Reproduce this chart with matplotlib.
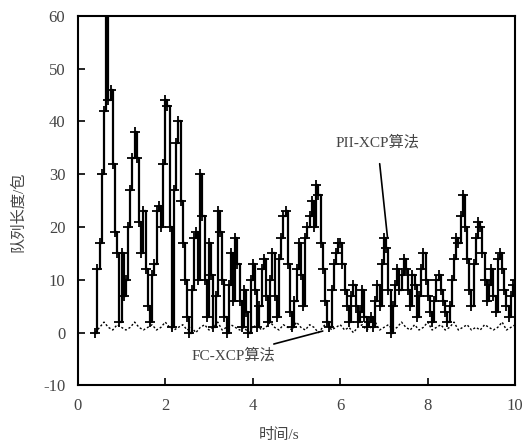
import numpy as np
import matplotlib
matplotlib.use("Agg")
import matplotlib.pyplot as plt

plt.rcParams['font.family'] = ['Liberation Serif', 'Noto Sans CJK SC']
plt.rcParams['axes.unicode_minus'] = False

# PII-XCP queue length, sampled every 0.05 s starting at 0.40 s
pii_t0 = 0.40
pii_dt = 0.05
pii_values = [
    0, 12, 17, 30, 42, 60, 44, 46, 32, 19, 15, 2,
    15, 7, 10, 20, 27, 33, 38, 33, 21, 15, 23, 12, 5, 2, 11, 13, 23, 24, 20, 32,
    44, 43, 20, 1, 27, 36, 40, 25, 17, 10, 3, 0, 8, 18, 19, 10, 30, 22, 10, 3,
    17, 11, 1, 7, 23, 19, 10, 3, 0, 9, 15, 6, 18, 13, 6, 1, 8, 4, 0, 10,
    13, 8, 1, 5, 12, 14, 7, 2, 10, 15, 7, 3, 14, 18, 22, 23, 13, 4, 1, 6,
    12, 17, 11, 5, 18, 20, 22, 25, 20, 28, 26, 17, 12, 6, 2, 1, 8, 13, 15, 17,
    17, 13, 8, 5, 2, 7, 9, 5, 2, 4, 8, 3, 1, 2, 3, 1, 6, 9, 5, 13,
    18, 16, 8, 0, 5, 9, 12, 8, 11, 14, 12, 8, 5, 11, 9, 3, 7, 12, 15, 10,
    7, 4, 2, 6, 10, 11, 8, 6, 4, 2, 5, 10, 14, 18, 17, 22, 26, 20, 14, 8,
    5, 13, 18, 21, 20, 15, 10, 6, 9, 12, 7, 4, 14, 15, 12, 8, 5, 3, 7, 9, 10,
]

# FC-XCP queue length, sampled every 0.1 s starting at 0.40 s
fc_t0 = 0.40
fc_dt = 0.10
fc_values = [
    0, 1, 2, 1, 0.5, 1.5, 1, 0.5, 1, 2, 1, 0.5, 1, 1.5, 0.5, 1, 2, 1, 0.5, 1,
    1.5, 0.5, 1, 0, 1, 1.5, 0.5, 1, 2, 0.5, 1, 1.5, 1, 0.5, 1, 0, 1, 1.5, 0.5, 1,
    2, 1, 0.5, 1.5, 1, 0.5, 2, 1, 0.5, 1.5, 1, 0, 1, 2, 0.5, 1, 1.5, 0.5, 1, 0,
    1, 1.5, 0.5, 1, 2, 0.5, 1, 1.5, 0.5, 1, 2, 1, 0.5, 1.5, 0.5, 1, 2, 0.5, 1, 1.5,
    0.5, 1, 2, 0.5, 1, 1.5, 0.5, 1, 0.5, 1.5, 1, 0.5, 1, 2, 0.5, 1, 1.5,
]

x_ticks = [0, 2, 4, 6, 8, 10]
y_ticks = [-10, 0, 10, 20, 30, 40, 50, 60]

pii_t = pii_t0 + pii_dt * np.arange(len(pii_values))
fc_t = fc_t0 + fc_dt * np.arange(len(fc_values))

fig = plt.figure(figsize=(5.29, 4.41), dpi=100)
ax = fig.add_axes([0.147, 0.126, 0.827, 0.838])

ax.plot(fc_t, fc_values, color='black', lw=1.0, ls=(0, (1.5, 1.5)))
ax.plot(pii_t, pii_values, color='black', lw=1.6, drawstyle='steps-post',
        marker='+', markersize=7, markeredgewidth=1.3)

ax.set_xlim(0, 10)
ax.set_ylim(-10, 60)
ax.set_xticks(x_ticks)
ax.set_yticks(y_ticks)
ax.tick_params(direction='in', length=5, width=1.2, labelsize=12,
               colors='black', labelcolor='#444444', pad=9)
for s in ax.spines.values():
    s.set_linewidth(1.5)

ax.set_xlabel('时间/s', fontsize=11, color='#444444', labelpad=10)
ax.set_ylabel('队列长度/包', fontsize=11, color='#444444', labelpad=10)
ax.xaxis.set_label_coords(0.46, -0.115)
ax.yaxis.set_label_coords(-0.12, 0.47)

ax.annotate('PII-XCP算法', xy=(7.08, 18), xytext=(6.85, 36),
            fontsize=11, color='#444444', ha='center', va='center',
            arrowprops=dict(arrowstyle='-', color='black', lw=1.2,
                            shrinkA=8, shrinkB=0))
ax.annotate('FC-XCP算法', xy=(5.6, 0.3), xytext=(3.55, -4.2),
            fontsize=11, color='#444444', ha='center', va='center',
            arrowprops=dict(arrowstyle='-', color='black', lw=1.2,
                            shrinkA=2, shrinkB=0))

fig.savefig('out.png', dpi=100)
